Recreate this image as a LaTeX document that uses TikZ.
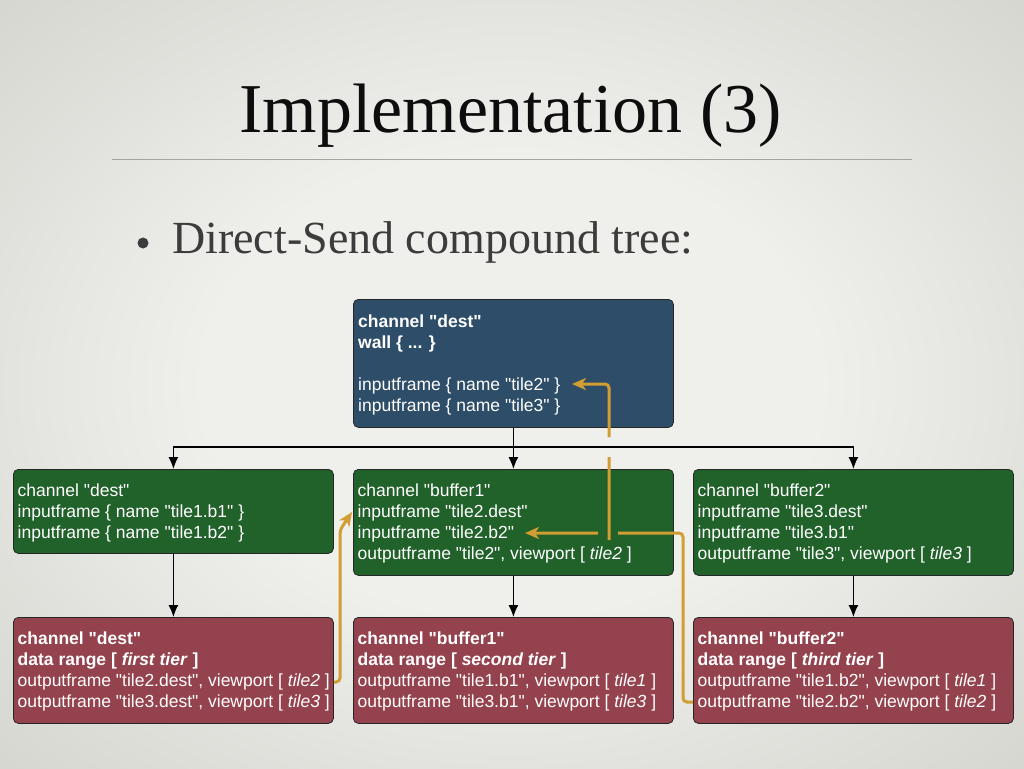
\documentclass[tikz,border=0pt]{standalone}
\usepackage{fontspec}
\setmainfont{Liberation Sans}[Ligatures=TeXOff]
\newfontfamily\headingface{Liberation Serif}[Ligatures=TeXOff]
\usetikzlibrary{arrows.meta}

\definecolor{bgin}{HTML}{EFEFEC}
\definecolor{bgout}{HTML}{C4C5BC}
\definecolor{destblue}{HTML}{2E4D68}
\definecolor{bufgreen}{HTML}{21612A}
\definecolor{tierred}{HTML}{94424D}
\definecolor{flowgold}{HTML}{D29D32}
\definecolor{subgrey}{HTML}{3C3C3C}
\definecolor{rulegrey}{HTML}{A4A4A0}

\pgfdeclareradialshading{slidebg}{\pgfpoint{0bp}{0bp}}{%
  color(0bp)=(bgin); color(15bp)=(bgin); color(50bp)=(bgout); color(75bp)=(bgout)}

\tikzset{
  box/.style={draw=black!85, line width=0.8pt, rounded corners=5pt,
    minimum width=320pt, inner sep=0pt, anchor=north west},
  % anchored on the baseline of the last line of text
  boxtext/.style={anchor=base west, align=left, inner sep=0pt, text=white,
    font=\fontsize{17.5}{21}\selectfont},
  tree/.style={line width=1.3pt, draw=black},
  treearrow/.style={tree, -{Latex[length=12pt,width=10pt]}},
  flow/.style={line width=3pt, draw=flowgold, rounded corners=4pt,
    -{Stealth[length=14pt,width=12pt,inset=4pt]}},
}

\begin{document}
\begin{tikzpicture}[x=1pt,y=-1pt]
\useasboundingbox (0,0) rectangle (1024,768);
\shade[shading=slidebg] (0,0) rectangle (1024,768);

% heading
\node[anchor=base, inner sep=0pt, font={\headingface\fontsize{70}{76}\selectfont}, text=black!95]
  (title) at (510.5,132) {Implementation (3)};
\draw[rulegrey, line width=1pt] (112,159) -- (912,159);
\fill[subgrey] (143,243) circle (5.5);
\node[anchor=base west, inner sep=0pt, font={\headingface\fontsize{46}{52}\selectfont}, text=subgrey]
  (sub) at (172,253) {Direct-Send compound tree:};

% boxes of the compound tree
\node[box, fill=destblue, minimum height=128pt] (dest) at (353,299) {};
\node[box, fill=bufgreen, minimum height=84pt]  (gA) at (13,469) {};
\node[box, fill=bufgreen, minimum height=106pt] (gB) at (353,469) {};
\node[box, fill=bufgreen, minimum height=106pt] (gC) at (693,469) {};
\node[box, fill=tierred, minimum height=106pt]  (rA) at (13,617) {};
\node[box, fill=tierred, minimum height=106pt]  (rB) at (353,617) {};
\node[box, fill=tierred, minimum height=106pt]  (rC) at (693,617) {};

% box contents
\node[boxtext] (destT) at ([shift={(5,112)}]dest.north west)
  {\textbf{channel "dest"}\\
   \textbf{wall \{ ... \}}\\[21pt]
   inputframe \{ name "tile2" \}\\
   inputframe \{ name "tile3" \}};
\node[boxtext] (gAT) at ([shift={(4.5,69)}]gA.north west)
  {channel "dest"\\
   inputframe \{ name "tile1.b1" \}\\
   inputframe \{ name "tile1.b2" \}};
\node[boxtext] (gBT) at ([shift={(4.5,90)}]gB.north west)
  {channel "buffer1"\\
   inputframe "tile2.dest"\\
   inputframe "tile2.b2"\\
   outputframe "tile2", viewport [ \textit{tile2} ]};
\node[boxtext] (gCT) at ([shift={(4.5,90)}]gC.north west)
  {channel "buffer2"\\
   inputframe "tile3.dest"\\
   inputframe "tile3.b1"\\
   outputframe "tile3", viewport [ \textit{tile3} ]};
\node[boxtext] (rAT) at ([shift={(4.5,90)}]rA.north west)
  {\textbf{channel "dest"}\\
   \textbf{data range [ \textit{first tier} ]}\\
   outputframe "tile2.dest", viewport [ \textit{tile2} ]\\
   outputframe "tile3.dest", viewport [ \textit{tile3} ]};
\node[boxtext] (rBT) at ([shift={(4.5,90)}]rB.north west)
  {\textbf{channel "buffer1"}\\
   \textbf{data range [ \textit{second tier} ]}\\
   outputframe "tile1.b1", viewport [ \textit{tile1} ]\\
   outputframe "tile3.b1", viewport [ \textit{tile3} ]};
\node[boxtext] (rCT) at ([shift={(4.5,90)}]rC.north west)
  {\textbf{channel "buffer2"}\\
   \textbf{data range [ \textit{third tier} ]}\\
   outputframe "tile1.b2", viewport [ \textit{tile1} ]\\
   outputframe "tile2.b2", viewport [ \textit{tile2} ]};

% tree connectors
\coordinate (bus) at (dest.south |- 0,447);
\draw[tree] (dest.south) -- (bus);
\draw[treearrow] (bus) -| (gA.north);
\draw[treearrow] (bus) -- (gB.north);
\draw[treearrow] (bus) -| (gC.north);
\draw[treearrow] (gA.south) -- (rA.north);
\draw[treearrow] (gB.south) -- (rB.north);
\draw[treearrow] (gC.south) -- (rC.north);

% frame flow: tile2.dest -> buffer1
\coordinate (aOut) at (rA.east |- 0,682);
\coordinate (aIn) at (352,512);
\draw[flow] (aOut) -- (340,682) -- (340,530) -- (aIn);

% frame flow: tile2.b2 -> buffer1
\coordinate (bOut) at (rC.west |- 0,702);
\coordinate (bIn) at (525,533);
\draw[flow] (bOut) -- (683,702) -- (683,533) -- (618,533) (598,533) -- (bIn);

% frame flow: tile2 -> dest
\coordinate (cOut) at (609,540);
\coordinate (cIn) at (572,384);
\draw[flow] (cOut) -- (609,457) (609,437) -- (609,384) -- (cIn);
\end{tikzpicture}
\end{document}
